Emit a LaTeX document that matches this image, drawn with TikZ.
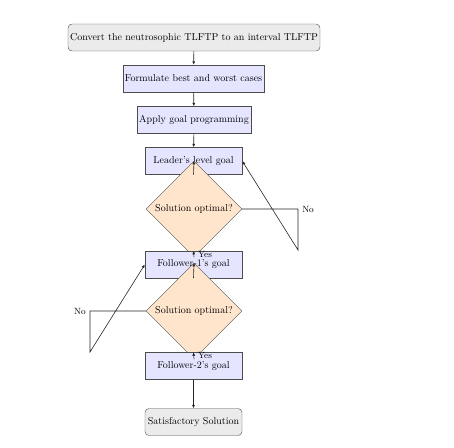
\documentclass[tikz,border=0pt]{standalone}
\usetikzlibrary{shapes.geometric,arrows.meta}
\begin{document}
\begin{tikzpicture}[x=1pt,y=-1pt,
  boxstyle/.style={rectangle, draw=black!70, fill=blue!10, minimum height=27pt, inner sep=2pt},
  termstyle/.style={rectangle, rounded corners=4pt, draw=black!70, fill=black!8, minimum height=27pt, inner sep=2pt},
  decstyle/.style={diamond, aspect=1, draw=black!70, fill=orange!20, minimum width=96pt, minimum height=96pt, inner sep=0pt},
  conn/.style={draw=black!85, semithick, -{Latex[length=3.5pt,width=3pt]}},
  lbl/.style={inner sep=0pt, font=\small}]
\useasboundingbox (0,0) rectangle (454,447);
\node[termstyle, minimum width=246pt] (b1) at (194,37.5) {Convert the neutrosophic TLFTP to an interval TLFTP};
\node[boxstyle, minimum width=141pt] (b2) at (193.5,78.5) {Formulate best and worst cases};
\node[boxstyle, minimum width=112pt] (b3) at (194,120) {Apply goal programming};
\node[boxstyle, minimum width=97pt] (b4) at (193.5,161) {Leader's level goal};
\node[decstyle] (d1) at (194,209) {Solution optimal?};
\node[boxstyle, minimum width=97pt] (b5) at (193.5,264.5) {Follower-1's goal};
\node[decstyle] (d2) at (194,311) {Solution optimal?};
\node[boxstyle, minimum width=97pt] (b6) at (193.5,366) {Follower-2's goal};
\node[termstyle, minimum width=97pt] (b7) at (193.5,422) {Satisfactory Solution};
\coordinate (r1) at (298,209);
\coordinate (r2) at (298,250);
\coordinate (l1) at (90,311);
\coordinate (l2) at (90,352);
\draw[conn] (b1) -- (b2);
\draw[conn] (b2) -- (b3);
\draw[conn] (b3) -- (b4);
\draw[conn] (b4.south) -- (d1.north);
\draw[conn] (d1.south) -- node[lbl, right=4pt] {Yes} (b5.north);
\draw[conn] (b5.south) -- (d2.north);
\draw[conn] (d2.south) -- node[lbl, right=4pt] {Yes} (b6.north);
\draw[conn] (b6) -- (b7);
\draw[conn] (d1.east) -- (r1) node[lbl, right=4pt] {No} -- (r2) -- (b4.east);
\draw[conn] (d2.west) -- (l1) node[lbl, left=4pt] {No} -- (l2) -- (b5.west);
\end{tikzpicture}
\end{document}
